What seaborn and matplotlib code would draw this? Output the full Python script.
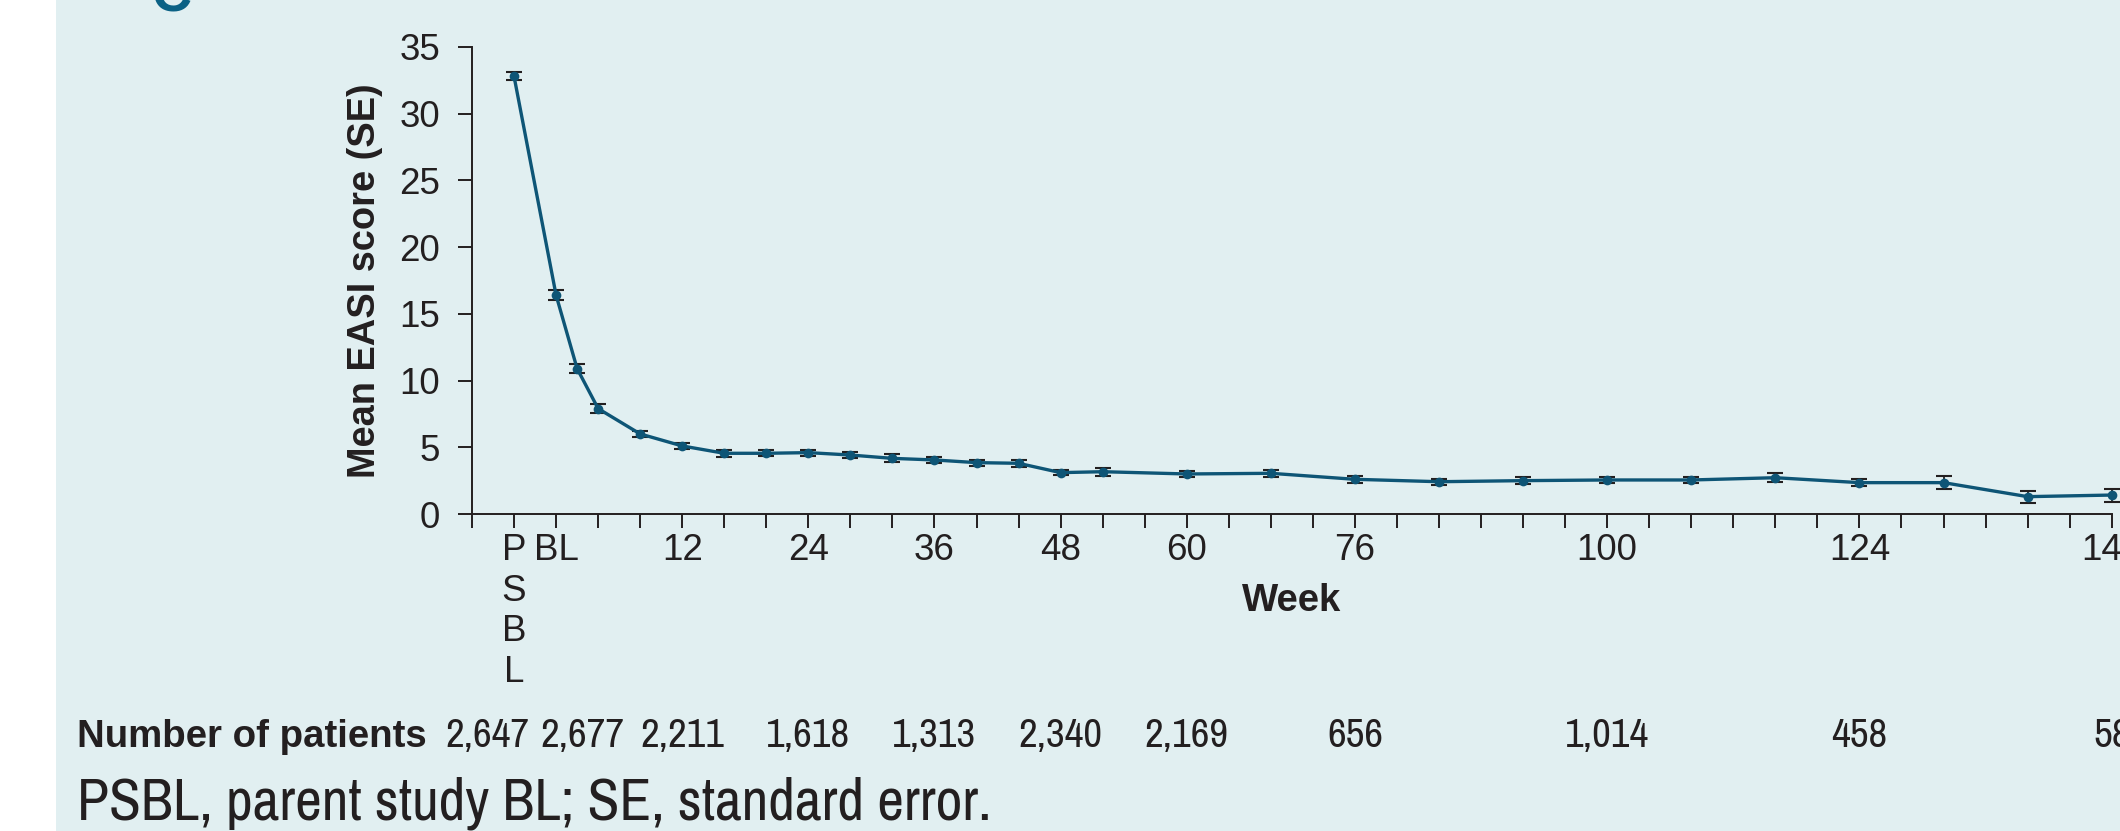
import numpy as np
import pandas as pd
import matplotlib
matplotlib.use("Agg")
import matplotlib.pyplot as plt
from matplotlib.patches import Rectangle
from matplotlib.transforms import blended_transform_factory
import seaborn as sns

# ---- data -------------------------------------------------------------
weeks = [-4, 0, 2, 4, 8, 12, 16, 20, 24, 28, 32, 36, 40, 44, 48, 52, 60, 68,
         76, 84, 92, 100, 108, 116, 124, 132, 140, 148]
mean_easi = [32.8, 16.4, 10.9, 7.9, 6.0, 5.1, 4.55, 4.55, 4.6, 4.42, 4.17,
             4.05, 3.85, 3.8, 3.1, 3.17, 3.0, 3.05, 2.6, 2.42, 2.5, 2.55,
             2.55, 2.72, 2.35, 2.35, 1.3, 1.42]
se_easi = [0.29, 0.37, 0.37, 0.34, 0.25, 0.22, 0.25, 0.22, 0.22, 0.25, 0.3,
           0.22, 0.22, 0.25, 0.2, 0.3, 0.25, 0.25, 0.25, 0.22, 0.25, 0.22,
           0.22, 0.33, 0.25, 0.47, 0.44, 0.49]

tick_weeks = list(range(-8, 149, 4))
tick_label_map = {-4: "P\nS\nB\nL", 0: "BL", 12: "12", 24: "24", 36: "36",
                  48: "48", 60: "60", 76: "76", 100: "100", 124: "124",
                  148: "148"}

n_weeks = [-4, 0, 12, 24, 36, 48, 60, 76, 100, 124, 148]
n_patients = ["2,647", "2,677", "2,211", "1,618", "1,313", "2,340", "2,169",
              "656", "1,014", "458", "58"]

y_label = "Mean EASI score (SE)"
x_label = "Week"
n_label = "Number of patients"
footnote = "PSBL, parent study BL; SE, standard error."

# ---- style ------------------------------------------------------------
BG = "#e1eff1"
LINE = "#0e5576"
INK = "#231f20"
W, H = 2120, 831
SANS = ["Liberation Sans", "DejaVu Sans"]
NARROW = ["Archivo Narrow", "DejaVu Sans"]

sns.set_style("ticks")
plt.rcParams["font.family"] = SANS

df = pd.DataFrame({"week": weeks, "mean": mean_easi, "se": se_easi})

fig = plt.figure(figsize=(W / 100, H / 100), dpi=100)
fig.patch.set_facecolor("white")
fig.patches.append(Rectangle((56 / W, 0), 1, 1, transform=fig.transFigure,
                             facecolor=BG, edgecolor="none", zorder=-10))

ax = fig.add_axes([472 / W, 317 / H, 1639.7 / W, 467 / H])
ax.set_facecolor("none")

ax.errorbar(df["week"], df["mean"], yerr=df["se"], fmt="none", ecolor=INK,
            elinewidth=1.3, capsize=5.5, capthick=1.5, clip_on=False,
            zorder=2)
sns.lineplot(data=df, x="week", y="mean", ax=ax, color=LINE, linewidth=2.4,
             marker="o", markersize=7, markeredgewidth=0, clip_on=False,
             zorder=3)

ax.set_xlim(-8, 148)
ax.set_ylim(0, 35)
ax.set_xticks(tick_weeks)
ax.set_xticklabels([tick_label_map.get(t, "") for t in tick_weeks])
ax.set_yticks(range(0, 36, 5))

sns.despine(ax=ax)
for s in ("left", "bottom"):
    ax.spines[s].set_linewidth(1.4)
    ax.spines[s].set_color(INK)
ax.tick_params(axis="both", length=10, width=1.4, color=INK,
               labelsize=26.5, labelcolor=INK)
ax.tick_params(axis="x", pad=4)
ax.tick_params(axis="y", pad=13)

ax.set_ylabel(y_label, fontsize=27.4, fontweight="bold", color=INK,
              labelpad=12)
ax.set_xlabel(x_label, fontsize=27.6, fontweight="bold", color=INK)
ax.xaxis.set_label_coords(0.5, -0.148)

# number of patients row
row_y = 1 - 747 / H
fig.text(77 / W, row_y, n_label, ha="left", va="baseline", fontsize=27.6,
         fontweight="bold", color=INK)
tr = blended_transform_factory(ax.transData, fig.transFigure)
crowd_shift = {-4: -2.5, 0: 2.5}
for wk, n in zip(n_weeks, n_patients):
    ax.text(wk + crowd_shift.get(wk, 0), row_y, n, transform=tr, ha="center",
            va="baseline", fontsize=29.5, family=NARROW, color=INK,
            clip_on=False)

# footnote
fig.text(77 / W, 1 - 820 / H, footnote, ha="left", va="baseline",
         fontsize=42, family=NARROW, color=INK)

# partially visible panel letter at top
fig.text(172 / W, 1 - 11 / H, "C", ha="center", va="baseline", fontsize=40,
         fontweight="bold", color="#0b6185")

fig.savefig("out.png", dpi=100, facecolor=fig.get_facecolor())
